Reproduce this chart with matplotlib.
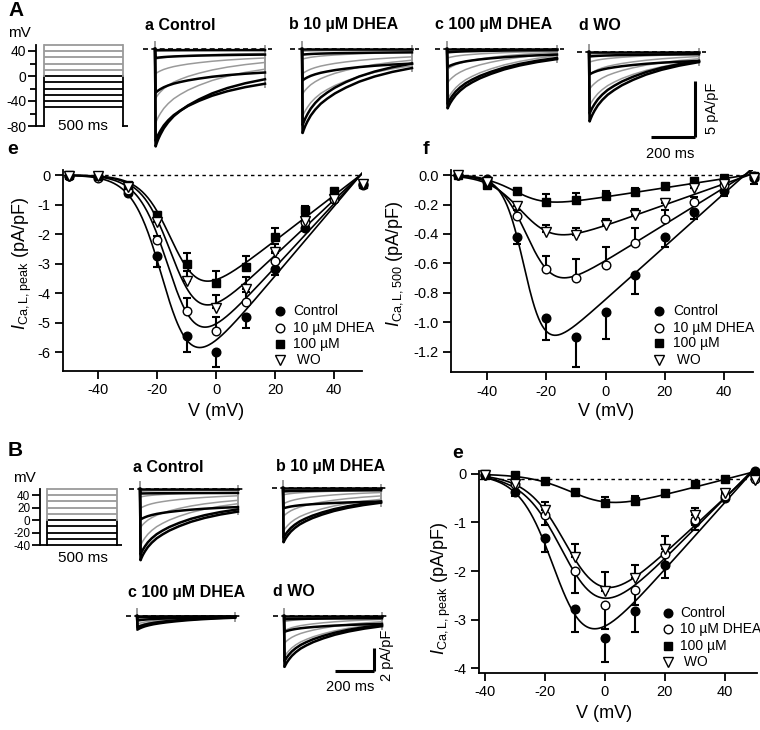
import matplotlib
matplotlib.use('Agg')
import matplotlib.pyplot as plt
import numpy as np

plt.rcParams['font.family'] = ['Liberation Sans', 'DejaVu Sans']
plt.rcParams['mathtext.fontset'] = 'custom'
plt.rcParams['mathtext.rm'] = 'Liberation Sans'
plt.rcParams['mathtext.it'] = 'Liberation Sans:italic'
plt.rcParams['mathtext.bf'] = 'Liberation Sans:bold'

W, H = 760, 730
fig = plt.figure(figsize=(7.6, 7.3), dpi=100)

def box(x0, y0, x1, y1):
    return fig.add_axes([x0 / W, 1 - y1 / H, (x1 - x0) / W, (y1 - y0) / H])

def ftext(x, y, s, **kw):
    fig.text(x / W, 1 - y / H, s, **kw)

# ---------------- data ----------------
protoA_levels = [50, 40, 30, 20, 10, 0, -10, -20, -30, -40, -50]
protoB_levels = [50, 40, 30, 20, 10, 0, -10, -20, -30, -40]

trace_t = [0, 3, 8, 15, 25, 40, 60, 85, 115, 150, 200, 260, 330, 410, 500]
trace_shape = [0, 1.0, 0.95, 0.89, 0.82, 0.73, 0.64, 0.55, 0.47, 0.39, 0.30, 0.21, 0.13, 0.06, 0.0]
trace_colors = ['k', 'k', 'k', 'k', 'k', 'g', 'g', 'g', 'g', 'g']

Aa_peak = [-8.7, -8.2, -3.9, -0.8, -0.1, -6.6, -4.4, -2.2, -0.9, -0.2]
Aa_end = [-2.7, -3.1, -2.1, -0.5, -0.1, -1.8, -1.2, -0.8, -0.4, -0.1]
Ab_peak = [-7.5, -6.8, -2.8, -0.5, 0.0, -6.0, -4.0, -2.2, -0.9, -0.2]
Ab_end = [-1.7, -1.3, -1.3, -0.3, 0.0, -1.5, -1.0, -0.7, -0.3, -0.1]
Ac_peak = [-5.3, -4.9, -1.6, -0.3, 0.0, -4.5, -3.0, -1.8, -0.8, -0.2]
Ac_end = [-0.9, -0.8, -0.5, -0.1, 0.0, -0.6, -0.4, -0.3, -0.2, -0.05]
Ad_peak = [-6.2, -5.5, -2.0, -0.4, 0.0, -4.8, -3.3, -2.0, -0.9, -0.2]
Ad_end = [-0.9, -0.8, -0.8, -0.2, 0.0, -0.8, -0.6, -0.4, -0.2, -0.05]
Ba_peak = [-6.3, -5.8, -2.7, -0.4, 0.0, -5.0, -3.4, -1.7, -0.7, -0.2]
Ba_end = [-2.0, -1.8, -1.6, -0.35, 0.0, -1.3, -1.0, -0.6, -0.3, -0.1]
Bb_peak = [-4.8, -4.4, -1.8, -0.3, 0.0, -3.8, -2.5, -1.4, -0.6, -0.1]
Bb_end = [-1.3, -1.2, -1.2, -0.2, 0.0, -1.0, -0.7, -0.4, -0.2, -0.05]
Bc_peak = [-1.2, -1.0, -0.4, -0.1, 0.0, -0.9, -0.7, -0.4, -0.2, -0.1]
Bc_end = [-0.15, -0.12, -0.1, -0.05, 0.0, -0.1, -0.08, -0.05, -0.03, 0.0]
Bd_peak = [-4.5, -4.0, -1.4, -0.3, 0.0, -3.6, -2.4, -1.3, -0.5, -0.1]
Bd_end = [-0.9, -0.8, -0.7, -0.2, 0.0, -0.7, -0.5, -0.3, -0.1, -0.05]

series_names = ['Control', '10 µM DHEA', '100 µM', 'WO']

V_A = [-50, -40, -30, -20, -10, 0, 10, 20, 30, 40, 50]
A_peak_control = [-0.05, -0.05, -0.6, -2.75, -5.45, -6.0, -4.8, -3.2, -1.8, -0.8, -0.35]
A_peak_control_err = [0, 0, 0.05, 0.35, 0.55, 0.5, 0.4, 0.2, 0.1, 0.05, 0]
A_peak_dhea10 = [-0.05, -0.1, -0.5, -2.2, -4.6, -5.3, -4.3, -2.9, -1.6, -0.8, -0.3]
A_peak_dhea10_err = [0, 0, 0.05, 0.15, 0.45, 0.5, 0.35, 0.25, 0.15, 0.05, 0]
A_peak_dhea100 = [0.0, -0.05, -0.35, -1.35, -3.0, -3.65, -3.1, -2.1, -1.2, -0.55, -0.3]
A_peak_dhea100_err = [0, 0, 0.05, 0.1, 0.35, 0.4, 0.35, 0.3, 0.15, 0.05, 0]
A_peak_wo = [-0.05, -0.05, -0.4, -1.6, -3.6, -4.5, -3.85, -2.6, -1.55, -0.8, -0.3]
A_peak_wo_err = [0, 0, 0.05, 0.25, 0.35, 0.45, 0.4, 0.25, 0.15, 0.05, 0]
# Boltzmann-ohmic fit parameters: G, Vhalf, k, Erev
A_peak_fits = [(0.118, -17, 5.0, 49), (0.108, -15, 5.0, 49), (0.0768, -14, 5.0, 49), (0.094, -14, 5.0, 49)]

A_500_control = [0.0, -0.03, -0.42, -0.97, -1.10, -0.93, -0.68, -0.42, -0.25, -0.11, -0.02]
A_500_control_err = [0, 0, 0.05, 0.15, 0.2, 0.18, 0.13, 0.07, 0.05, 0.03, 0.04]
A_500_dhea10 = [0.0, -0.05, -0.28, -0.64, -0.70, -0.61, -0.46, -0.30, -0.18, -0.07, -0.01]
A_500_dhea10_err = [0, 0, 0.04, 0.09, 0.13, 0.12, 0.1, 0.06, 0.03, 0, 0]
A_500_dhea100 = [0.0, -0.07, -0.11, -0.18, -0.17, -0.145, -0.115, -0.075, -0.04, -0.02, -0.01]
A_500_dhea100_err = [0, 0, 0, 0.05, 0.05, 0.035, 0.025, 0, 0, 0, 0]
A_500_wo = [0.0, -0.05, -0.21, -0.385, -0.41, -0.34, -0.27, -0.19, -0.09, -0.06, -0.02]
A_500_wo_err = [0, 0, 0.02, 0.045, 0.05, 0.04, 0.04, 0.03, 0, 0, 0]
A_500_fits = [(0.01796, -27, 3.5, 47), (0.0124, -25.6, 4.7, 47), (0.0031, -29.5, 5.35, 48), (0.0071, -27.2, 5.6, 48.5)]

V_B = [-40, -30, -20, -10, 0, 10, 20, 30, 40, 50]
B_peak_control = [-0.02, -0.38, -1.33, -2.78, -3.38, -2.82, -1.87, -1.0, -0.5, 0.05]
B_peak_control_err = [0, 0.07, 0.27, 0.47, 0.5, 0.43, 0.28, 0.15, 0.05, 0]
B_peak_dhea10 = [-0.02, -0.2, -0.85, -2.0, -2.7, -2.4, -1.65, -0.95, -0.45, -0.1]
B_peak_dhea10_err = [0, 0.03, 0.2, 0.45, 0.5, 0.3, 0.2, 0.1, 0.05, 0]
B_peak_dhea100 = [0.0, -0.03, -0.15, -0.38, -0.6, -0.56, -0.4, -0.2, -0.1, 0.0]
B_peak_dhea100_err = [0, 0, 0, 0.03, 0.12, 0.11, 0.05, 0, 0, 0]
B_peak_wo = [-0.02, -0.2, -0.75, -1.72, -2.42, -2.15, -1.55, -0.85, -0.4, -0.12]
B_peak_wo_err = [0, 0.03, 0.17, 0.27, 0.4, 0.28, 0.27, 0.15, 0.05, 0]
B_peak_fits = [(0.069, -15.35, 5.7, 48.5), (0.0625, -11.7, 6.64, 48), (0.016, -8.3, 7.0, 47), (0.0575, -10.6, 6.5, 48.5)]

# ---------------- styles ----------------
MSTYLE = [dict(marker='o', mfc='k', ms=6.2),
          dict(marker='o', mfc='white', ms=6.2),
          dict(marker='s', mfc='k', ms=5.5),
          dict(marker='v', mfc='white', ms=6.8)]
GRAY = '#9a9a9a'


def protocol(ax, levels, hold, ticks, minor, tlabels, tmin, tmax, labelsize):
    ax.set_xlim(tmin, tmax)
    for v in levels:
        c = 'k' if v <= 0 else GRAY
        ax.plot([0, 500], [v, v], color=c, lw=1.3, solid_capstyle='butt')
    for t in (0, 500):
        ax.plot([t, t], [hold, 0], color='k', lw=1.3)
        ax.plot([t, t], [0, max(levels)], color=GRAY, lw=1.3)
    ax.plot([tmin, 0], [hold, hold], color='k', lw=1.3)
    ax.plot([500, tmax], [hold, hold], color='k', lw=1.3)
    for s in ['top', 'right', 'bottom']:
        ax.spines[s].set_visible(False)
    ax.spines['left'].set_linewidth(1.3)
    ax.spines['left'].set_bounds(hold, max(levels))
    ax.set_xticks([])
    ax.set_yticks(ticks)
    ax.set_yticklabels(tlabels)
    ax.set_yticks(minor, minor=True)
    ax.tick_params(axis='y', which='major', length=6, width=1.3, labelsize=labelsize, pad=1)
    ax.tick_params(axis='y', which='minor', length=4, width=1.3)
    ax.patch.set_alpha(0)


def traces(ax, peaks, ends):
    ax.set_xlim(-60, 540)
    ax.set_ylim(-10, 1.5)
    ax.axis('off')
    shape = np.array(trace_shape)
    for wanted in ('g', 'k'):
        for p, e, c in zip(peaks, ends, trace_colors):
            if c != wanted:
                continue
            y = e + (p - e) * shape
            y[0] = 0.0
            ax.plot(trace_t, y, color=('k' if c == 'k' else GRAY),
                    lw=(1.8 if c == 'k' else 1.1), zorder=(3 if c == 'k' else 2))
    ax.plot([0, 0], [0.6, min(peaks)], color=GRAY, lw=1.4, zorder=1)
    ax.plot([500, 500], [0.3, min(ends) - 0.25], color=GRAY, lw=1.4, zorder=1)
    ax.plot([-55, 530], [0, 0], color='k', lw=1.2, dashes=(3, 2), zorder=4)


def iv(ax, volts, data, errs, dirs, fits, xlim, ylim, yticks, ytl, zero_y, fit_from):
    ax.set_xlim(*xlim)
    ax.set_ylim(*ylim)
    ax.plot(xlim, [zero_y, zero_y], color='k', lw=1.0, dashes=(2.5, 2.5), zorder=1)
    for (G, Vh, k, E) in fits:
        vv = np.linspace(fit_from, xlim[1], 300)
        ax.plot(vv, G * (vv - E) / (1 + np.exp((Vh - vv) / k)), color='k', lw=1.2, zorder=2)
    for y, e, d, st in zip(data, errs, dirs, MSTYLE):
        y = np.array(y)
        e = np.array(e)
        lo = e if d == 'down' else np.zeros_like(e)
        hi = e if d == 'up' else np.zeros_like(e)
        ax.errorbar(volts, y, yerr=[lo, hi], fmt='none', ecolor='k', elinewidth=1.5,
                    capsize=3.2, capthick=1.5, zorder=3, clip_on=False)
        ax.plot(volts, y, ls='none', mec='k', mew=1.0, zorder=5, clip_on=False, **st)
    for s in ['top', 'right']:
        ax.spines[s].set_visible(False)
    for s in ['left', 'bottom']:
        ax.spines[s].set_linewidth(1.3)
    ax.set_yticks(yticks)
    ax.set_yticklabels(ytl)
    ax.set_xticks([-40, -20, 0, 20, 40])
    ax.set_xticklabels(['-40', '-20', '0', '20', '40'])
    ax.tick_params(direction='out', length=6, width=1.3, labelsize=10.5, pad=3)
    ax.patch.set_alpha(0)


def legend(ax, xm, xt, ys):
    for st, name, y in zip(MSTYLE, series_names, ys):
        ax.plot([xm], [y], ls='none', mec='k', mew=1.0, transform=ax.transAxes, clip_on=False, **st)
        ax.text(xt, y, (' ' + name) if name == 'WO' else name, transform=ax.transAxes,
                va='center', ha='left', fontsize=10)


def axfrac(ax_px, px, axis):
    x0, y0, x1, y1 = ax_px
    if axis == 'x':
        return (px - x0) / (x1 - x0)
    return (y1 - px) / (y1 - y0)

# ---------------- panel A ----------------
ftext(8, 11, 'A', fontsize=15, fontweight='bold', va='center', ha='left')
ftext(7, 150, 'e', fontsize=14, fontweight='bold', va='center', ha='left')
ftext(423, 150, 'f', fontsize=14, fontweight='bold', va='center', ha='left')

pxms = 0.158
axp = box(36, 76 - 60 * 0.625, 36 + 585 * pxms, 126 + 2)
axp.set_ylim(-80 - 2 / 0.625, 60)
protocol(axp, protoA_levels, -80, [40, 0, -40, -80], [20, -20, -60],
         ['40', '0', '-40', '-80'], -50, 535, 10)
axp.text(250, -80, '500 ms', ha='center', va='center', fontsize=11)
ftext(8, 33, 'mV', fontsize=11, va='center', ha='left')

def trace_axes(x0, yb, pxms, pxu):
    return box(x0 - 60 * pxms, yb - 1.5 * pxu, x0 + 540 * pxms, yb + 10 * pxu)

pA_ms, pA_u = 0.22, 11.2
for x0, yb, pk, en, title, tx in [
        (155, 49, Aa_peak, Aa_end, 'a Control', 145),
        (302, 49, Ab_peak, Ab_end, 'b 10 µM DHEA', 289),
        (447, 49, Ac_peak, Ac_end, 'c 100 µM DHEA', 435),
        (589, 52, Ad_peak, Ad_end, 'd WO', 579)]:
    ax = trace_axes(x0, yb, pA_ms, pA_u)
    traces(ax, pk, en)
    ftext(tx, 25, title, fontsize=11.5, fontweight='bold', va='center', ha='left')
    last = ax
sb_t = (695 - 589) / pA_ms
sb_y0 = -(81 - 52) / pA_u
last.plot([sb_t, sb_t], [sb_y0, sb_y0 - 5], color='k', lw=2.2, clip_on=False, solid_capstyle='butt')
last.plot([sb_t - 200, sb_t], [sb_y0 - 5, sb_y0 - 5], color='k', lw=2.2, clip_on=False, solid_capstyle='butt')
ftext(712, 108, '5 pA/pF', rotation=90, fontsize=10.5, va='center', ha='center')
ftext(670, 154, '200 ms', fontsize=10.5, va='center', ha='center')

e_px = (63, 170, 362, 371)
ax_e = box(*e_px)
iv(ax_e, V_A, [A_peak_control, A_peak_dhea10, A_peak_dhea100, A_peak_wo],
   [A_peak_control_err, A_peak_dhea10_err, A_peak_dhea100_err, A_peak_wo_err],
   ['down', 'up', 'up', 'up'], A_peak_fits, (-51.9, 49.5), (-6.64, 0.17),
   [0, -1, -2, -3, -4, -5, -6], ['0', '-1', '-2', '-3', '-4', '-5', '-6'], 0, -50)
legend(ax_e, axfrac(e_px, 280, 'x'), axfrac(e_px, 293, 'x'),
       [axfrac(e_px, y, 'y') for y in (311, 328, 344, 360)])
ftext(22, 263, r'$I_{\mathrm{Ca,L,peak}}$ (pA/pF)', rotation=90, fontsize=13, va='center', ha='center')
ftext(216, 412, 'V (mV)', fontsize=13, va='center', ha='center')

f_px = (451, 170, 753, 372)
ax_f = box(*f_px)
iv(ax_f, V_A, [A_500_control, A_500_dhea10, A_500_dhea100, A_500_wo],
   [A_500_control_err, A_500_dhea10_err, A_500_dhea100_err, A_500_wo_err],
   ['down', 'up', 'up', 'up'], A_500_fits, (-52.2, 49.8), (-1.336, 0.034),
   [0, -0.2, -0.4, -0.6, -0.8, -1.0, -1.2], ['0.0', '-0.2', '-0.4', '-0.6', '-0.8', '-1.0', '-1.2'], 0, -50)
legend(ax_f, axfrac(f_px, 659, 'x'), axfrac(f_px, 673, 'x'),
       [axfrac(f_px, y, 'y') for y in (311, 328, 343, 360)])
ftext(395, 264, r'$I_{\mathrm{Ca,L,500}}$ (pA/pF)', rotation=90, fontsize=13, va='center', ha='center')
ftext(606, 412, 'V (mV)', fontsize=13, va='center', ha='center')

# ---------------- panel B ----------------
ftext(8, 451, 'B', fontsize=15, fontweight='bold', va='center', ha='left')
ftext(452, 454, 'e', fontsize=14, fontweight='bold', va='center', ha='left')

pxmsB = 0.14
axq = box(40, 489 - 2, 40 + 585 * pxmsB, 545 + 2)
axq.set_ylim(-40 - 2 / 0.625, 50 + 2 / 0.625)
protocol(axq, protoB_levels, -40, [40, 20, 0, -20, -40], [],
         ['40', '20', '0', '-20', '-40'], -50, 535, 8.5)
ftext(83, 558, '500 ms', fontsize=11, va='center', ha='center')
ftext(13, 478, 'mV', fontsize=11, va='center', ha='left')

pB_ms, pB_u = 0.196, 11.3
for x0, yb, pk, en, title, tx, ty in [
        (140, 489, Ba_peak, Ba_end, 'a Control', 133, 467),
        (283, 488, Bb_peak, Bb_end, 'b 10 µM DHEA', 276, 467),
        (137, 616, Bc_peak, Bc_end, 'c 100 µM DHEA', 128, 592),
        (284, 616, Bd_peak, Bd_end, 'd WO', 273, 592)]:
    ax = trace_axes(x0, yb, pB_ms, pB_u)
    traces(ax, pk, en)
    ftext(tx, ty, title, fontsize=11.5, fontweight='bold', va='center', ha='left')
    last = ax
sb_t = (374 - 284) / pB_ms
sb_y0 = -(648 - 616) / pB_u
last.plot([sb_t, sb_t], [sb_y0, sb_y0 - 2], color='k', lw=2.2, clip_on=False, solid_capstyle='butt')
last.plot([sb_t - 200, sb_t], [sb_y0 - 2, sb_y0 - 2], color='k', lw=2.2, clip_on=False, solid_capstyle='butt')
ftext(387, 655, '2 pA/pF', rotation=90, fontsize=10.5, va='center', ha='center')
ftext(350, 687, '200 ms', fontsize=10.5, va='center', ha='center')

b_px = (479, 471, 757, 673)
ax_b = box(*b_px)
iv(ax_b, V_B, [B_peak_control, B_peak_dhea10, B_peak_dhea100, B_peak_wo],
   [B_peak_control_err, B_peak_dhea10_err, B_peak_dhea100_err, B_peak_wo_err],
   ['down', 'down', 'up', 'up'], B_peak_fits, (-42, 50.7), (-4.1, 0.06),
   [0, -1, -2, -3, -4], ['0', '-1', '-2', '-3', '-4'], -0.1, -40)
legend(ax_b, axfrac(b_px, 668, 'x'), axfrac(b_px, 680, 'x'),
       [axfrac(b_px, y, 'y') for y in (613, 629, 646, 662)])
ftext(441, 588, r'$I_{\mathrm{Ca,L,peak}}$ (pA/pF)', rotation=90, fontsize=13, va='center', ha='center')
ftext(604, 714, 'V (mV)', fontsize=13, va='center', ha='center')

fig.savefig('out.png', dpi=100)
